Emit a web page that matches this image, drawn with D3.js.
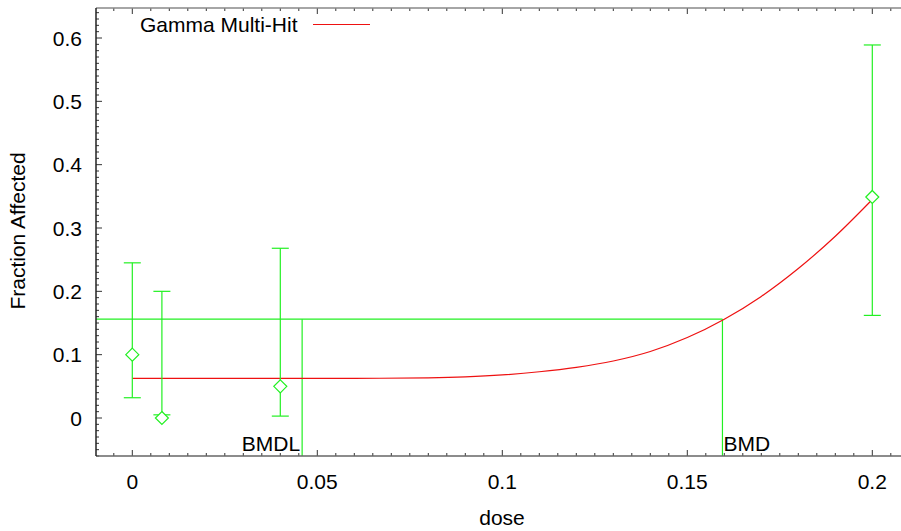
<!DOCTYPE html>
<html><head><meta charset="utf-8">
<script src="https://cdn.jsdelivr.net/npm/d3@7"></script>
<style>body{margin:0;background:#fff}svg{display:block;font-family:Arial,"Liberation Sans",sans-serif}</style>
</head><body><svg id="c" width="901" height="531"></svg>
<script>
// Observed data
const doses = [0, 0.008, 0.04, 0.2];
const observed = [0.1, 0.0, 0.05, 0.349];
const lowerCI = [0.032, 0.005, 0.003, 0.162];
const upperCI = [0.245, 0.2, 0.268, 0.589];
// Fitted model curve
const curveDose = [0, 0.02, 0.04, 0.06, 0.08, 0.09, 0.10, 0.11, 0.12, 0.13, 0.14, 0.15, 0.16, 0.17, 0.18, 0.19, 0.20];
const curveResp = [0.0625, 0.0625, 0.0625, 0.0626, 0.0635, 0.065, 0.068, 0.073, 0.080, 0.090, 0.105, 0.127, 0.156, 0.192, 0.236, 0.287, 0.345];
const bmr = 0.156, bmdl = 0.0459, bmd = 0.1595;
const xTicks = [0, 0.05, 0.1, 0.15, 0.2];
const xTickLabels = ["0", "0.05", "0.1", "0.15", "0.2"];
const yTicks = [0, 0.1, 0.2, 0.3, 0.4, 0.5, 0.6];
const yTickLabels = ["0", "0.1", "0.2", "0.3", "0.4", "0.5", "0.6"];
const legendLabel = "Gamma Multi-Hit";

const svg = d3.select("#c");
const L = 96, R = 901, T = 8, B = 456;
const FS = 21;
const x = d3.scaleLinear().domain([0, 0.2]).range([132.3, 872.3]);
const y = d3.scaleLinear().domain([0, 0.6]).range([418, 38]);
const GREEN = "#22f022", RED = "#ee1111", AX = "#333";

svg.append("defs").append("clipPath").attr("id","clip").append("rect")
  .attr("x", L).attr("y", T).attr("width", R - L).attr("height", B - T);
const plot = svg.append("g").attr("clip-path","url(#clip)");

// ticks
const xMinor = d3.range(-0.005, 0.2101, 0.005).map(v => +v.toFixed(4)).filter(v => x(v) >= L && x(v) <= R);
const yMinor = d3.range(-0.06, 0.6501, 0.01).map(v => +v.toFixed(4)).filter(v => y(v) >= T && y(v) <= B);
const isMajorX = v => Math.abs(v / 0.05 - Math.round(v / 0.05)) < 1e-6;
const isMajorY = v => Math.abs(v / 0.1 - Math.round(v / 0.1)) < 1e-6;
const axg = svg.append("g");
xMinor.forEach(v => {
  const len = isMajorX(v) ? 6 : 3;
  axg.append("line").attr("x1", x(v)).attr("x2", x(v)).attr("y1", B).attr("y2", B - len).attr("stroke", AX);
  axg.append("line").attr("x1", x(v)).attr("x2", x(v)).attr("y1", T).attr("y2", T + len).attr("stroke", AX);
});
yMinor.forEach(v => {
  const len = isMajorY(v) ? 6 : 3;
  axg.append("line").attr("x1", L).attr("x2", L + len).attr("y1", y(v)).attr("y2", y(v)).attr("stroke", AX);
});
axg.append("line").attr("x1", L).attr("x2", R).attr("y1", B).attr("y2", B).attr("stroke", "#666").attr("stroke-width", 1.5);
axg.append("line").attr("x1", L).attr("x2", R).attr("y1", T).attr("y2", T).attr("stroke", "#888").attr("stroke-width", 1.5);
axg.append("line").attr("x1", L).attr("x2", L).attr("y1", T).attr("y2", B).attr("stroke", "#222").attr("stroke-width", 1.5);

// tick labels
xTicks.forEach((v, i) => svg.append("text").attr("x", x(v)).attr("y", 489).attr("text-anchor","middle")
  .attr("font-size", FS).attr("fill","#000").text(xTickLabels[i]));
yTicks.forEach((v, i) => svg.append("text").attr("x", 82).attr("y", y(v) + 7.5).attr("text-anchor","end")
  .attr("font-size", FS).attr("fill","#000").text(yTickLabels[i]));
svg.append("text").attr("x", 502).attr("y", 525).attr("text-anchor","middle").attr("font-size", FS).text("dose");
svg.append("text").attr("transform","translate(25,231) rotate(-90)").attr("text-anchor","middle").attr("font-size", FS).text("Fraction Affected");

// BMR / BMDL / BMD lines
plot.append("line").attr("x1", L).attr("x2", x(bmd)).attr("y1", y(bmr)).attr("y2", y(bmr)).attr("stroke", GREEN).attr("stroke-width", 1.2);
plot.append("line").attr("x1", x(bmdl)).attr("x2", x(bmdl)).attr("y1", y(bmr)).attr("y2", B).attr("stroke", GREEN).attr("stroke-width", 1.2);
plot.append("line").attr("x1", x(bmd)).attr("x2", x(bmd)).attr("y1", y(bmr)).attr("y2", B).attr("stroke", GREEN).attr("stroke-width", 1.2);
svg.append("text").attr("x", x(bmdl) - 2).attr("y", 451).attr("text-anchor","end").attr("font-size", FS).text("BMDL");
svg.append("text").attr("x", x(bmd) + 1).attr("y", 451).attr("font-size", FS).text("BMD");

// model curve
const line = d3.line().x((d, i) => x(curveDose[i])).y((d, i) => y(curveResp[i])).curve(d3.curveCatmullRom);
plot.append("path").attr("d", line(curveDose)).attr("fill","none").attr("stroke", RED).attr("stroke-width", 1.2);

// error bars + markers
doses.forEach((d, i) => {
  const g = plot.append("g").attr("stroke", GREEN).attr("stroke-width", 1.2).attr("fill","none");
  g.append("line").attr("x1", x(d)).attr("x2", x(d)).attr("y1", y(lowerCI[i])).attr("y2", y(upperCI[i]));
  [lowerCI[i], upperCI[i]].forEach(c => g.append("line").attr("x1", x(d) - 8.5).attr("x2", x(d) + 8.5).attr("y1", y(c)).attr("y2", y(c)));
  const cx = x(d), cy = y(observed[i]), r = 6.5;
  g.append("path").attr("d", `M${cx},${cy - r}L${cx + r},${cy}L${cx},${cy + r}L${cx - r},${cy}Z`).attr("fill","#fff");
});

// legend
svg.append("text").attr("x", 140).attr("y", 32).attr("font-size", FS).text(legendLabel);
svg.append("line").attr("x1", 313).attr("x2", 370).attr("y1", 24.5).attr("y2", 24.5).attr("stroke", RED).attr("stroke-width", 1.2);
</script></body></html>
